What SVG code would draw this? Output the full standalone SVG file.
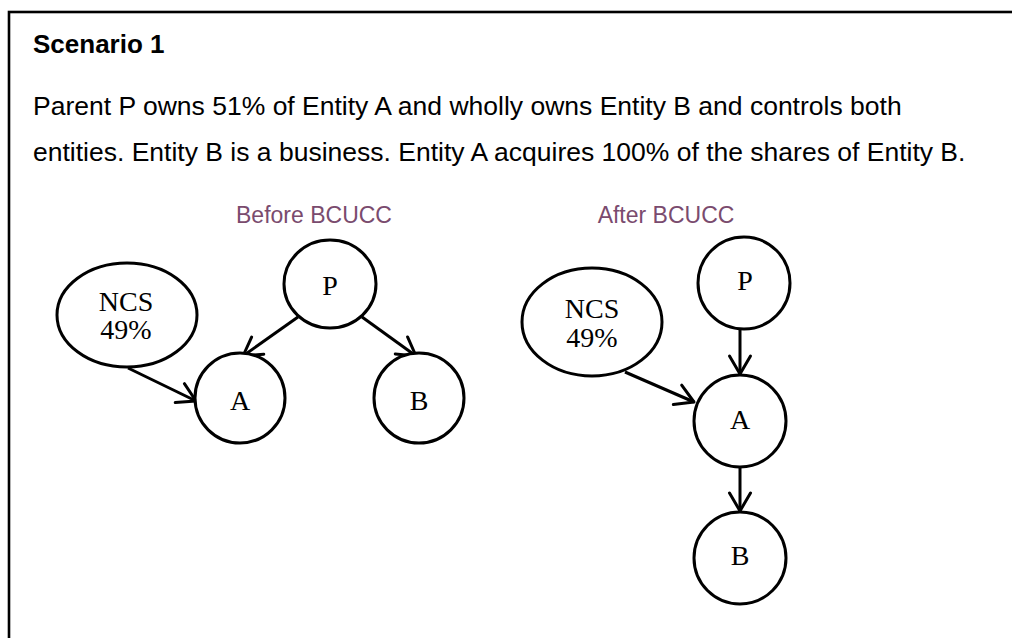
<svg xmlns="http://www.w3.org/2000/svg" width="1012" height="638" viewBox="0 0 1012 638">
<style>
.frame{fill:none;stroke:#000;stroke-width:2.6}
.title{font-family:"Liberation Sans",Arial,sans-serif;font-size:26px;font-weight:bold;fill:#000}
.body{font-family:"Liberation Sans",Arial,sans-serif;font-size:26.5px;fill:#000}
.cap{font-family:"Liberation Sans",Arial,sans-serif;font-size:23px;fill:#7a4b6e;text-anchor:middle}
.node{fill:#fff;stroke:#000;stroke-width:3}
.lbl{font-family:"Liberation Serif","Times New Roman",serif;font-size:28px;fill:#000;text-anchor:middle}
.edge{fill:none;stroke:#000;stroke-width:3;marker-end:url(#arr)}
</style>
<defs>
<marker id="arr" markerUnits="userSpaceOnUse" markerWidth="30" markerHeight="30" viewBox="-25 -15 30 30" refX="0" refY="0" orient="auto">
<path d="M-18,-10.5 L0,0 L-18,10.5" fill="none" stroke="#000" stroke-width="3" stroke-linecap="round" stroke-linejoin="round"/>
</marker>
</defs>
<rect class="frame" x="9" y="12" width="1020" height="650"/>
<text class="title" x="33" y="53">Scenario 1</text>
<text class="body" x="33" y="115">Parent P owns 51% of Entity A and wholly owns Entity B and controls both</text>
<text class="body" x="33" y="161">entities. Entity B is a business. Entity A acquires 100% of the shares of Entity B.</text>
<text class="cap" x="314" y="223">Before BCUCC</text>
<text class="cap" x="666" y="223">After BCUCC</text>
<g id="connectors">
<line class="edge" x1="128" y1="368" x2="196" y2="401"/>
<line class="edge" x1="298" y1="317" x2="243" y2="356"/>
<line class="edge" x1="362" y1="317" x2="416" y2="356"/>
<line class="edge" x1="740" y1="329" x2="740" y2="374"/>
<line class="edge" x1="740" y1="467" x2="740" y2="511"/>
<line class="edge" x1="625" y1="372" x2="694" y2="402"/>
</g>
<g id="before-ncs"><ellipse class="node" cx="127" cy="315" rx="70" ry="52"/><text class="lbl" x="126" y="311">NCS</text><text class="lbl" x="126" y="339">49%</text></g>
<g id="before-p"><ellipse class="node" cx="330" cy="284" rx="46" ry="44"/><text class="lbl" x="330" y="295">P</text></g>
<g id="before-a"><circle class="node" cx="240" cy="398" r="45"/><text class="lbl" x="240" y="410">A</text></g>
<g id="before-b"><circle class="node" cx="419" cy="398" r="45"/><text class="lbl" x="419" y="410">B</text></g>
<g id="after-ncs"><ellipse class="node" cx="592" cy="322" rx="70" ry="54"/><text class="lbl" x="592" y="318">NCS</text><text class="lbl" x="592" y="347">49%</text></g>
<g id="after-p"><circle class="node" cx="744" cy="283" r="46"/><text class="lbl" x="745" y="290">P</text></g>
<g id="after-a"><circle class="node" cx="740" cy="421" r="46"/><text class="lbl" x="740" y="429">A</text></g>
<g id="after-b"><circle class="node" cx="740" cy="558" r="46"/><text class="lbl" x="740" y="565">B</text></g>
</svg>
